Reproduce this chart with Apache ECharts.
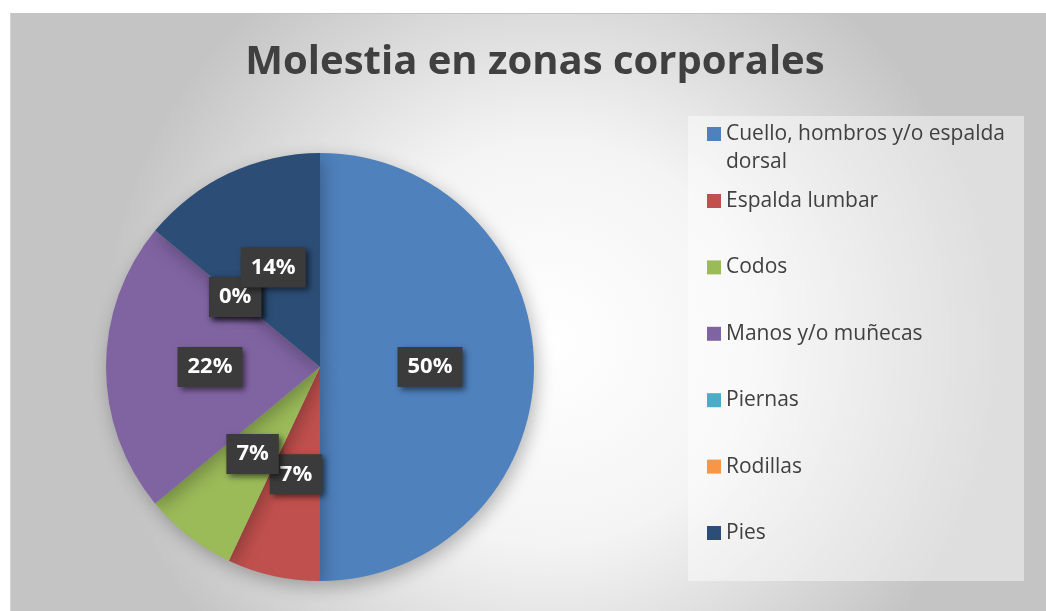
<!DOCTYPE html>
<html>
<head>
<meta charset="utf-8">
<script src="https://cdn.jsdelivr.net/npm/echarts@6/dist/echarts.min.js"></script>
<style>
  html, body { margin: 0; padding: 0; background: #fff; }
  #chart {
    position: absolute;
    left: 10px;
    top: 13px;
    width: 1036px;
    height: 598px;
    border-top: 1px solid #c4c4c4;
    border-left: 1px solid #d4d4d4;
    box-sizing: border-box;
  }
</style>
</head>
<body>
<div id="chart"></div>
<script>
const zonas = [
  "Cuello, hombros y/o espalda dorsal",
  "Espalda lumbar",
  "Codos",
  "Manos y/o muñecas",
  "Piernas",
  "Rodillas",
  "Pies",
];
const porcentajes = [50, 7, 7, 22, 0, 0, 14];
const colores = ["#4F81BD", "#C0504D", "#9BBB59", "#8064A2", "#4BACC6", "#F79646", "#2C4D75"];

const chart = echarts.init(document.getElementById("chart"), null, { renderer: "canvas" });

const fontFam = "'Open Sans', sans-serif";
const legendText = {
  color: "#404040",
  fontSize: 21,
  fontFamily: fontFam,
};

chart.setOption({
  backgroundColor: {
    type: "radial",
    x: 0.52,
    y: 0.55,
    r: 0.75,
    colorStops: [
      { offset: 0, color: "#ffffff" },
      { offset: 0.45, color: "#f4f4f4" },
      { offset: 1, color: "#c4c4c4" },
    ],
  },
  animation: false,
  title: {
    text: "Molestia en zonas corporales",
    left: 519,
    top: 24,
    textAlign: "center",
    textStyle: {
      color: "#404040",
      fontSize: 40,
      fontWeight: "bold",
      fontFamily: fontFam,
    },
  },
  graphic: [
    {
      type: "rect",
      left: 677,
      top: 102,
      shape: { width: 336, height: 465 },
      style: { fill: "rgba(255,255,255,0.45)" },
      z: -1,
    },
  ],
  legend: [
    {
      // first entry wraps onto two lines, icon stays on the first one
      data: zonas.slice(0, 1),
      left: 691,
      top: 73,
      orient: "vertical",
      itemWidth: 14,
      itemHeight: 14,
      icon: "rect",
      selectedMode: false,
      formatter: (name) => "\n" + name.replace(" dorsal", "\ndorsal"),
      textStyle: Object.assign({}, legendText, { lineHeight: 28 }),
    },
    {
      data: zonas.slice(1),
      left: 691,
      top: 170,
      orient: "vertical",
      itemWidth: 14,
      itemHeight: 14,
      itemGap: 42.4,
      icon: "rect",
      selectedMode: false,
      textStyle: Object.assign({}, legendText, { lineHeight: 24 }),
    },
  ],
  series: [
    {
      type: "pie",
      center: [309, 353],
      radius: 214,
      startAngle: 90,
      clockwise: true,
      avoidLabelOverlap: false,
      labelLayout: { hideOverlap: false },
      color: colores,
      data: zonas.map((n, i) => ({ name: n, value: porcentajes[i] })),
      itemStyle: {
        shadowBlur: 18,
        shadowColor: "rgba(0,0,0,0.28)",
        shadowOffsetX: 3,
        shadowOffsetY: 6,
      },
      label: {
        show: true,
        position: "inside",
        formatter: (p) => p.value + "%",
        color: "#ffffff",
        fontSize: 22,
        fontWeight: "bold",
        fontFamily: fontFam,
        backgroundColor: "#3b3b3b",
        padding: [10, 10, 8, 10],
        shadowBlur: 6,
        shadowColor: "rgba(0,0,0,0.55)",
        shadowOffsetX: 3,
        shadowOffsetY: 3,
      },
      labelLine: { show: false },
      emphasis: { disabled: true },
    },
  ],
});
</script>
</body>
</html>
